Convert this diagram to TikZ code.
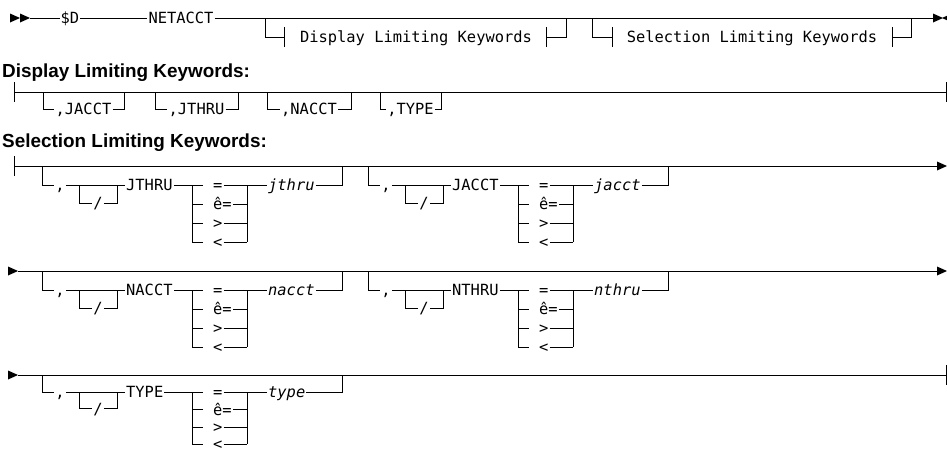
\documentclass[tikz,border=0pt]{standalone}
\usepackage{fontspec}
\setmainfont{Liberation Sans}
\setmonofont{DejaVu Sans Mono}
\tikzset{
  rail/.style={line width=0.8pt, line cap=butt},
  kw/.style={font=\ttfamily\fontsize{15.4}{18}\selectfont, inner xsep=1pt, inner ysep=0.3pt, text height=11.2pt, text depth=0pt},
  var/.style={kw, font=\ttfamily\itshape\fontsize{15.4}{18}\selectfont},
  head/.style={font=\bfseries\fontsize{18.9}{22}\selectfont, anchor=base west, inner sep=0pt},
}
\newcommand\rarrowhead[2]{\fill (#1,#2-4.5) -- (#1+10,#2) -- (#1,#2+4.5) -- cycle;}
\newcommand\larrowhead[2]{\fill (#1+10,#2-4.5) -- (#1,#2) -- (#1+10,#2+4.5) -- cycle;}
\newcommand\railtick[1]{\draw[rail] ([yshift=10pt]#1) -- ([yshift=-10pt]#1);}
\newcommand\dispitem[4]{%
  \coordinate (#1t) at (#2,92);
  \coordinate (#1b) at (#2,109);
  \node[kw] (#1) at ({(#2+#3)/2},109) {#4};
  \coordinate (#1u) at (#3,109);
  \coordinate (#1ut) at (#3,92);
  \draw[rail] (#1t) -- (#1b) -- (#1) -- (#1u) -- (#1ut);
}
% #1 row spacing, #2 prefix, #3 branch x, #4 main line y, #5 keyword, #6 variable
\newcommand\selgroup[6][19]{%
  \coordinate (#2t) at (#3,#4);
  \coordinate (#2b) at (#3,#4+#1);
  \node[kw] (#2cm) at (#3+18,#4+#1) {,};
  \coordinate (#2la) at (#3+37,#4+#1);
  \coordinate (#2lb) at (#3+37,#4+2*#1-1);
  \node[kw] (#2sl) at (#3+56,#4+2*#1-1) {/};
  \coordinate (#2lc) at (#3+75,#4+2*#1-1);
  \coordinate (#2ld) at (#3+75,#4+#1);
  \node[kw,anchor=west] (#2kw) at (#3+83,#4+#1) {#5};
  \coordinate (#2c) at (#3+150,#4+#1);
  \coordinate (#2cb) at (#3+150,#4+4*#1);
  \coordinate (#2j) at (#3+205,#4+#1);
  \coordinate (#2jb) at (#3+205,#4+4*#1);
  \node[var,anchor=west] (#2v) at (#3+225,#4+#1) {#6};
  \coordinate (#2u) at (#3+300,#4+#1);
  \coordinate (#2ut) at (#3+300,#4);
  \draw[rail] (#2t) -- (#2b) -- (#2cm) -- (#2kw) -- (#2c);
  \draw[rail] (#2la) -- (#2lb) -- (#2sl) -- (#2lc) -- (#2ld);
  \draw[rail] (#2c) -- (#2cb);
  \draw[rail] (#2j) -- (#2jb);
  \draw[rail] (#2j) -- (#2v) -- (#2u) -- (#2ut);
  \foreach \k/\s in {0/=,1/ê=,2/>,3/<} {
    \node[kw,anchor=west] (#2o\k) at (#3+170,#4+#1+#1*\k) {\s};
    \coordinate (#2ol\k) at (#3+150,#4+#1+#1*\k);
    \coordinate (#2or\k) at (#3+205,#4+#1+#1*\k);
    \draw[rail,shorten >=9pt] (#2ol\k) -- (#2o\k);
    \draw[rail] (#2o\k) -- (#2or\k);
  }
}
\begin{document}
\begin{tikzpicture}[x=1pt,y=-1pt]
\useasboundingbox (0,0) rectangle (947,455);

% ---------- main statement ----------
\rarrowhead{10}{18}
\rarrowhead{20}{18}
\coordinate (s0) at (30,18);
\node[kw] (sd) at (70,18) {\$D};
\node[kw] (net) at (181,18) {NETACCT};
\coordinate (e0) at (933,18);
\rarrowhead{933}{18}
\larrowhead{942}{18}
\draw[rail] (s0) -- (sd) -- (net) -- (e0);

\coordinate (d1t) at (265,18);
\coordinate (d1b) at (265,37);
\coordinate (t1a) at (284,37);
\node[kw] (dlk) at (416,37) {Display Limiting Keywords};
\coordinate (t1b) at (546,37);
\coordinate (u1b) at (566,37);
\coordinate (u1t) at (566,18);
\draw[rail] (d1t) -- (d1b) -- (t1a);
\draw[rail] (t1b) -- (u1b) -- (u1t);
\railtick{t1a}
\railtick{t1b}

\coordinate (d2t) at (592,18);
\coordinate (d2b) at (592,37);
\coordinate (t2a) at (612,37);
\node[kw] (slk) at (752,37) {Selection Limiting Keywords};
\coordinate (t2b) at (892,37);
\coordinate (u2b) at (911,37);
\coordinate (u2t) at (911,18);
\draw[rail] (d2t) -- (d2b) -- (t2a);
\draw[rail] (t2b) -- (u2b) -- (u2t);
\railtick{t2a}
\railtick{t2b}

% ---------- Display Limiting Keywords ----------
\node[head] (h1) at (2,77) {Display Limiting Keywords:};
\coordinate (dl0) at (14,92);
\coordinate (dr0) at (946,92);
\draw[rail] (dl0) -- (dr0);
\railtick{dl0}
\railtick{dr0}
\dispitem{da}{43}{124}{,JACCT}
\dispitem{db}{155}{238}{,JTHRU}
\dispitem{dc}{267}{351}{,NACCT}
\dispitem{dd}{380}{441}{,TYPE}

% ---------- Selection Limiting Keywords ----------
\node[head] (h2) at (2,147) {Selection Limiting Keywords:};

% row 1
\coordinate (r1l) at (14,166);
\coordinate (r1r) at (937,166);
\draw[rail] (r1l) -- (r1r);
\railtick{r1l}
\rarrowhead{937}{166}
\selgroup{ga}{42}{166}{JTHRU}{jthru}
\selgroup{gb}{368}{166}{JACCT}{jacct}

% row 2
\rarrowhead{8}{271}
\coordinate (r2l) at (18,271);
\coordinate (r2r) at (937,271);
\draw[rail] (r2l) -- (r2r);
\rarrowhead{937}{271}
\selgroup{gc}{42}{271}{NACCT}{nacct}
\selgroup{gd}{368}{271}{NTHRU}{nthru}

% row 3
\rarrowhead{8}{375}
\coordinate (r3l) at (18,375);
\coordinate (r3r) at (946,375);
\draw[rail] (r3l) -- (r3r);
\railtick{r3r}
\selgroup[17.3]{ge}{42}{375}{TYPE}{type}
\end{tikzpicture}
\end{document}
